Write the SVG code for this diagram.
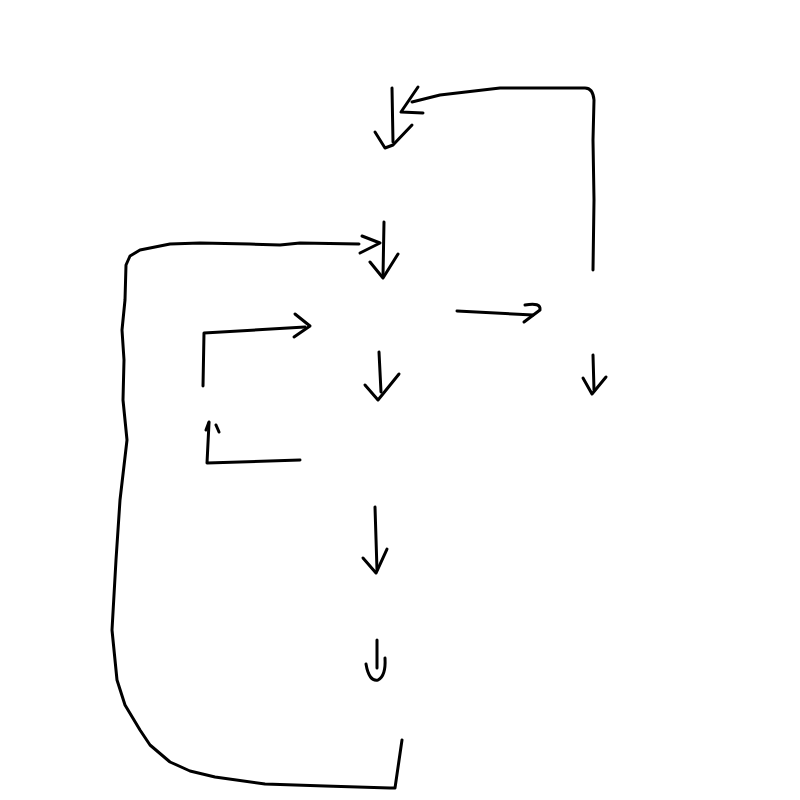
<svg xmlns="http://www.w3.org/2000/svg" width="800" height="800" viewBox="0 0 800 800">
<style>
.s{fill:none;stroke:#000;stroke-width:3;stroke-linecap:round;stroke-linejoin:round}
</style>
<rect width="800" height="800" fill="#fff"/>
<g id="connectors">
<path class="s" d="M593,270 L594,200 L593,140 L594,100 Q593,88 585,88 L500,88 L440,95 L412,102"/>
<path class="s" d="M418,87 L401,112 L423,113"/>
<path class="s" d="M392,88 L393,142"/>
<path class="s" d="M375,132 L385,148 L393,145 L412,125"/>
<path class="s" d="M384,222 L383,276"/>
<path class="s" d="M370,262 L383,278 L398,254"/>
<path class="s" d="M359,244 L300,243 L280,245 L250,244 L200,243 L170,244 L140,250 L130,256 L126,265 L125,300 L122,330 L124,360 L123,400 L127,440 L120,500 L116,560 L112,630 L117,680 L125,705 L140,730 L150,745 L170,762 L190,771 L215,777 L265,784 L325,786 L390,788 L395,788 L402,740"/>
<path class="s" d="M362,236 L380,243 L360,253"/>
<path class="s" d="M203,386 L204,333 L305,327"/>
<path class="s" d="M295,314 L310,326 L294,337"/>
<path class="s" d="M300,460 L207,463 L209,423"/>
<path class="s" d="M206,430 L209,422"/>
<path class="s" d="M216,425 L219,432"/>
<path class="s" d="M457,311 L533,315"/>
<path class="s" d="M525,305 Q541,302 540,310 L524,322"/>
<path class="s" d="M379,352 L381,392"/>
<path class="s" d="M365,385 L378,400 L399,374"/>
<path class="s" d="M593,355 L594,390"/>
<path class="s" d="M583,378 L592,394 L606,377"/>
<path class="s" d="M375,507 L377,570"/>
<path class="s" d="M363,558 L376,573 L387,549"/>
<path class="s" d="M377,640 L377,668"/>
<path class="s" d="M366,664 Q369,682 378,680 Q386,676 385,658"/>
</g>
</svg>
